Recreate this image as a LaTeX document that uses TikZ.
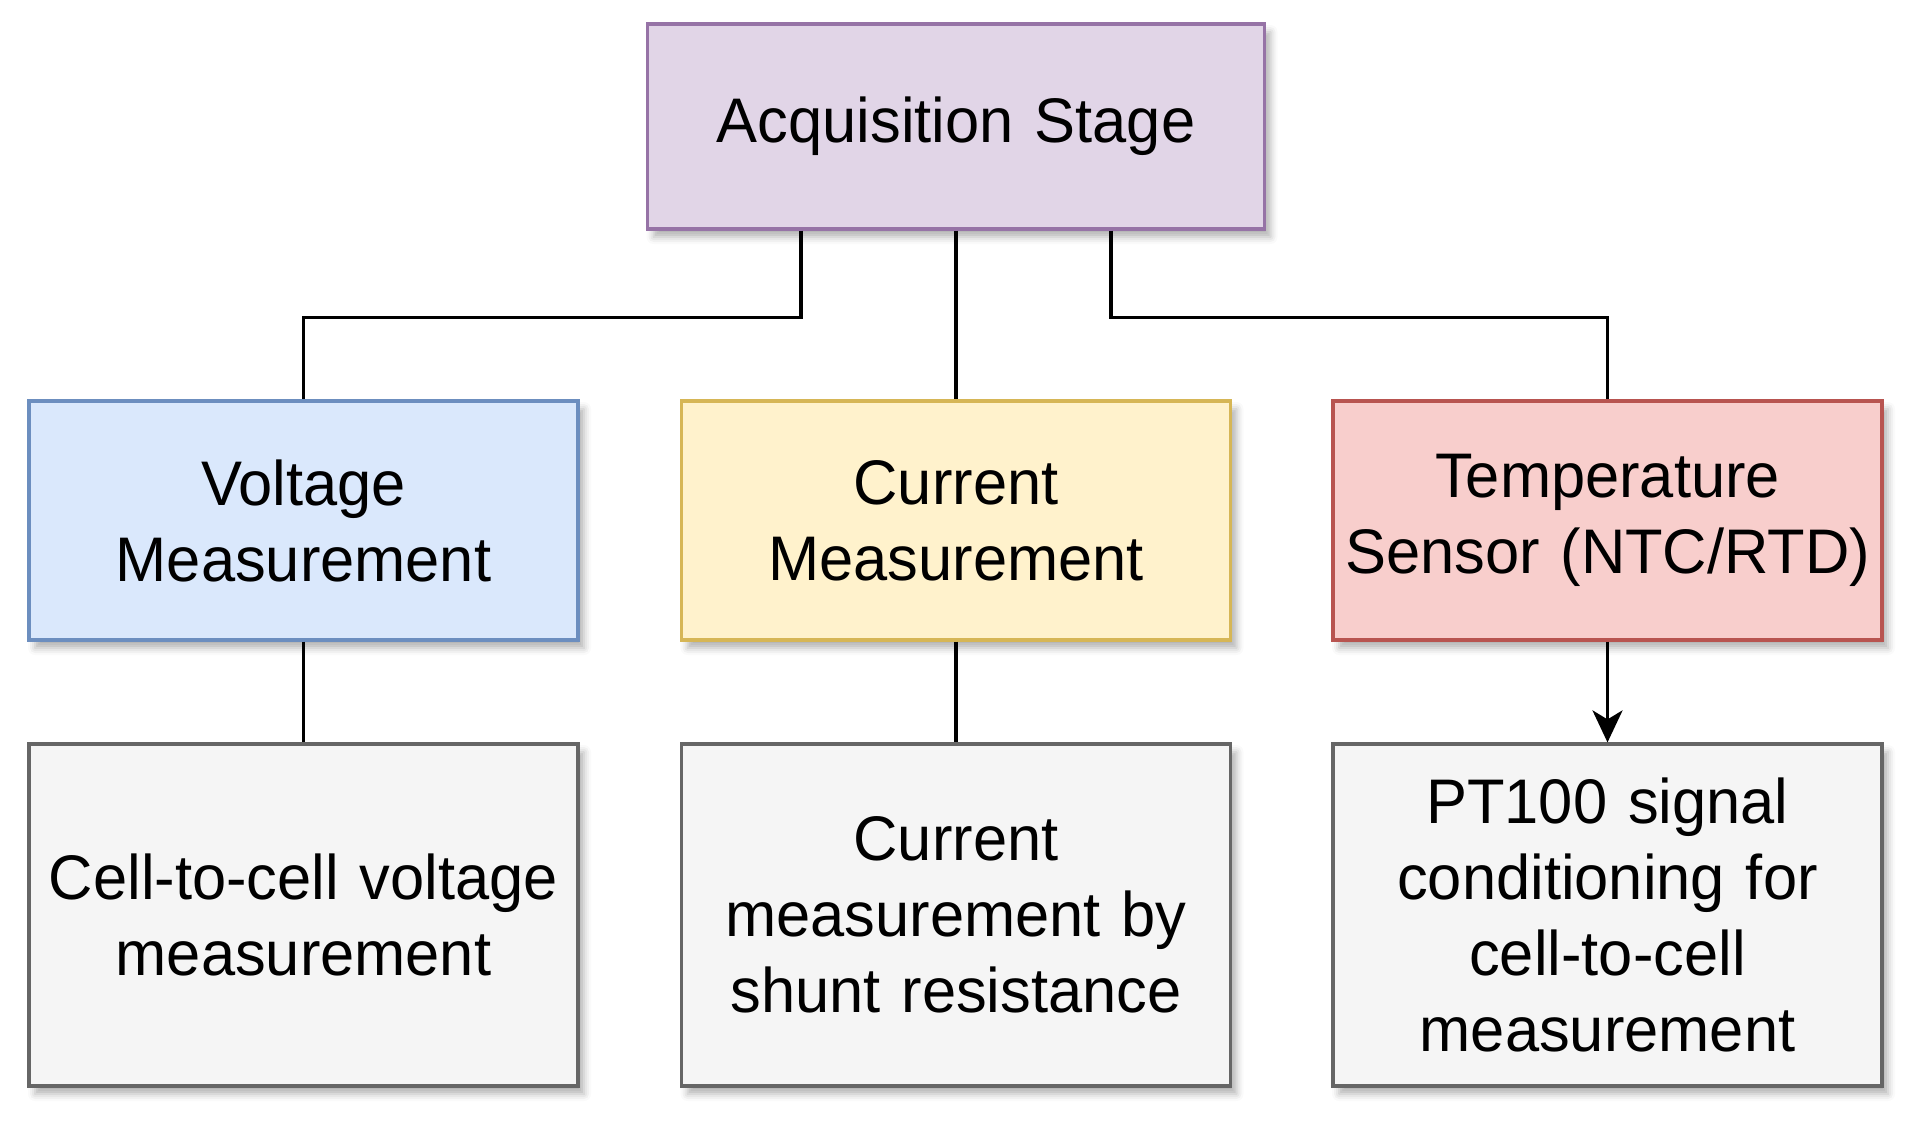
\documentclass[tikz,border=0pt]{standalone}
\usepackage{fontspec}
\setmainfont{Liberation Sans}[FakeStretch=0.975]
\usetikzlibrary{calc,arrows.meta,shadows.blur}
\definecolor{pfill}{HTML}{E1D5E7}\definecolor{pdraw}{HTML}{9673A6}
\definecolor{bfill}{HTML}{DAE8FC}\definecolor{bdraw}{HTML}{6C8EBF}
\definecolor{yfill}{HTML}{FFF2CC}\definecolor{ydraw}{HTML}{D6B656}
\definecolor{rfill}{HTML}{F8CECC}\definecolor{rdraw}{HTML}{B85450}
\definecolor{gfill}{HTML}{F5F5F5}\definecolor{gdraw}{HTML}{666666}
\tikzset{
  box/.style={draw, line width=3.2pt, inner sep=0pt, align=center,
    font=\fontsize{63}{76}\selectfont,
    blur shadow={shadow xshift=6pt, shadow yshift=-8pt, shadow blur radius=7pt, shadow opacity=30}},
  midbox/.style={box, minimum width=549pt, minimum height=239pt, text width=540pt},
  lowbox/.style={box, fill=gfill, draw=gdraw, minimum width=549pt, minimum height=342pt, text width=540pt},
  conn/.style={line width=3.3pt, draw=black}
}
\begin{document}
\begin{tikzpicture}[x=1pt,y=1pt]
\useasboundingbox (0,0) rectangle (1919,-1130);
\node[box, fill=pfill, draw=pdraw, minimum width=617pt, minimum height=205pt, text width=600pt] (top) at (956,-126.5) {Acquisition Stage};
\node[midbox, fill=bfill, draw=bdraw] (volt) at (303.5,-520.5) {Voltage\\Measurement};
\node[midbox, fill=yfill, draw=ydraw] (cur) at (956,-520.5) {Current\\Measurement};
\node[midbox, fill=rfill, draw=rdraw] (temp) at (1607.5,-520.5) {Temperature\\Sensor (NTC/RTD)};
\node[lowbox] (vb) at (303.5,-915) {Cell-to-cell voltage\\measurement};
\node[lowbox] (cb) at (956,-915) {Current\\measurement by\\shunt resistance};
\node[lowbox] (tb) at (1607.5,-915) {PT100 signal\\conditioning for\\cell-to-cell\\measurement};
\coordinate (tl) at ($(top.south west)!0.25!(top.south east)$);
\coordinate (tr) at ($(top.south west)!0.75!(top.south east)$);
\draw[conn] (tl) -- ++(0,-87) -| (volt.north);
\draw[conn] (tr) -- ++(0,-87) -| (temp.north);
\draw[conn] (top.south) -- (cur.north);
\draw[conn] (volt.south) -- (vb.north);
\draw[conn] (cur.south) -- (cb.north);
\draw[conn, -{Stealth[length=32pt, width=30pt, inset=9pt]}] (temp.south) -- (tb.north);
\end{tikzpicture}
\end{document}
